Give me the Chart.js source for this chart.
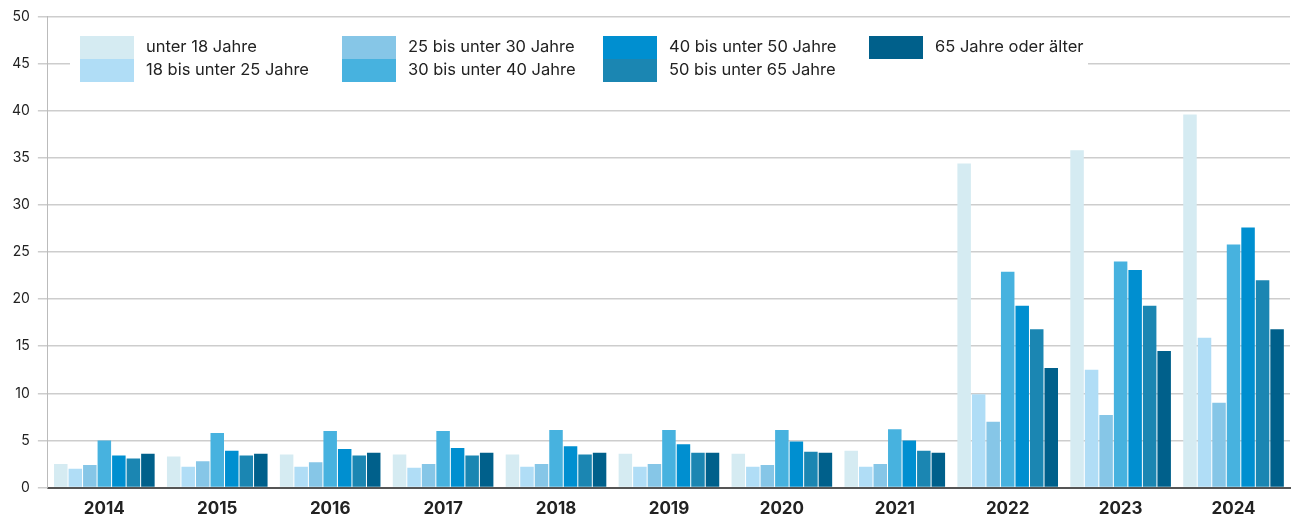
<!DOCTYPE html>
<html lang="de">
<head>
<meta charset="utf-8">
<title>Altersgruppen 2014-2024</title>
<script src="https://cdn.jsdelivr.net/npm/chart.js@4"></script>
<style>
  body { margin: 0; background: #fff; }
  #wrap { width: 1293px; height: 517px; position: relative; }
</style>
</head>
<body>
<div id="wrap"><canvas id="chart" width="1293" height="517"></canvas></div>
<script>
const years = ['2014', '2015', '2016', '2017', '2018', '2019', '2020', '2021', '2022', '2023', '2024'];

const groupNames = [
  'unter 18 Jahre',
  '18 bis unter 25 Jahre',
  '25 bis unter 30 Jahre',
  '30 bis unter 40 Jahre',
  '40 bis unter 50 Jahre',
  '50 bis unter 65 Jahre',
  '65 Jahre oder älter'
];

const under18   = [2.5, 3.3, 3.5, 3.5, 3.5, 3.6, 3.6, 3.9, 34.4, 35.8, 39.6];
const age18to25 = [2.0, 2.2, 2.2, 2.1, 2.2, 2.2, 2.2, 2.2, 9.9, 12.5, 15.9];
const age25to30 = [2.4, 2.8, 2.7, 2.5, 2.5, 2.5, 2.4, 2.5, 7.0, 7.7, 9.0];
const age30to40 = [5.0, 5.8, 6.0, 6.0, 6.1, 6.1, 6.1, 6.2, 22.9, 24.0, 25.8];
const age40to50 = [3.4, 3.9, 4.1, 4.2, 4.4, 4.6, 4.9, 5.0, 19.3, 23.1, 27.6];
const age50to65 = [3.1, 3.4, 3.4, 3.4, 3.5, 3.7, 3.8, 3.9, 16.8, 19.3, 22.0];
const age65plus = [3.6, 3.6, 3.7, 3.7, 3.7, 3.7, 3.7, 3.7, 12.7, 14.5, 16.8];

const yTicks = [0, 5, 10, 15, 20, 25, 30, 35, 40, 45, 50];

const colors = ['#d5ebf2', '#b0ddf6', '#86c6e7', '#47b2df', '#008fd0', '#1b86b2', '#00608b'];
const seriesValues = [under18, age18to25, age25to30, age30to40, age40to50, age50to65, age65plus];

const fontFamily = 'Inter, "Liberation Sans", Arial, sans-serif';

const datasets = groupNames.map((name, i) => ({
  label: name,
  data: seriesValues[i],
  backgroundColor: colors[i],
  borderWidth: 0,
  categoryPercentage: 0.9,
  barPercentage: 0.93
}));

// legend drawn inside the plot, on a white box that hides the gridline behind it
const boxLegend = {
  id: 'boxLegend',
  beforeDatasetsDraw(chart) {
    const ctx = chart.ctx;
    ctx.save();
    ctx.fillStyle = '#fff';
    ctx.fillRect(70, 28, 1018, 60);

    const colX = [80, 342, 603, 869];
    const rowY = [36, 59];
    ctx.font = '16.5px ' + fontFamily;
    ctx.textBaseline = 'middle';
    groupNames.forEach((name, i) => {
      const col = Math.floor(i / 2);
      const row = i % 2;
      const x = colX[col];
      const y = rowY[row];
      ctx.fillStyle = colors[i];
      ctx.fillRect(x, y, 54, 23);
      ctx.fillStyle = '#222';
      ctx.fillText(name, x + 66, y + 11.5);
    });
    ctx.restore();
  }
};

new Chart(document.getElementById('chart'), {
  type: 'bar',
  data: { labels: years, datasets: datasets },
  options: {
    responsive: false,
    animation: false,
    layout: { padding: { top: 8, right: 3, left: 4, bottom: -13 } },
    plugins: {
      legend: { display: false },
      tooltip: { enabled: false }
    },
    scales: {
      x: {
        grid: { display: false, drawTicks: false },
        border: { display: true, color: '#555', width: 2 },
        ticks: {
          color: '#222',
          padding: 11,
          font: { family: fontFamily, size: 17, weight: 'bold' }
        }
      },
      y: {
        min: 0,
        max: 50,
        afterBuildTicks(axis) {
          axis.ticks = yTicks.map(v => ({ value: v }));
        },
        grid: { color: '#cdcdcd', lineWidth: 1.5, tickLength: 10 },
        border: { display: true, color: '#bbb', width: 1 },
        ticks: {
          color: '#222',
          padding: 8,
          font: { family: fontFamily, size: 14 }
        }
      }
    }
  },
  plugins: [boxLegend]
});
</script>
</body>
</html>
